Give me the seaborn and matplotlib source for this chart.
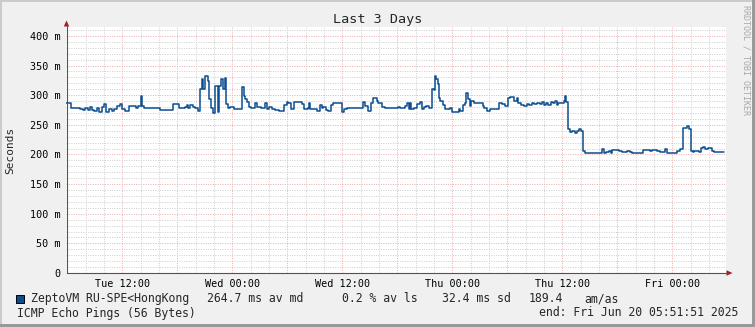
import numpy as np
import pandas as pd
import matplotlib
matplotlib.use("Agg")
import matplotlib.pyplot as plt
import seaborn as sns
from matplotlib.lines import Line2D
from matplotlib.patches import Polygon, Rectangle

# ---------------- data (hours since Tue 00:00, median RTT in ms) ----------------
hours = [
    5.86, 6.36, 7.34, 7.71, 7.93, 8.29, 8.51, 8.65, 8.91, 9.27,
    9.46, 9.74, 10.00, 10.25, 10.55, 10.83, 11.09, 11.45, 11.71, 12.00,
    12.29, 12.73, 13.28, 13.53, 13.75, 14.00, 14.11, 14.37, 16.07, 17.56,
    18.14, 18.87, 19.06, 19.17, 19.42, 19.67, 19.96, 20.26, 20.43, 20.69,
    20.80, 21.05, 21.31, 21.41, 21.63, 21.85, 22.07, 22.44, 22.58, 22.80,
    22.94, 23.16, 23.31, 23.53, 23.78, 24.14, 25.06, 25.23, 25.42, 25.60,
    25.78, 26.07, 26.43, 26.69, 27.16, 27.60, 27.79, 27.96, 28.33, 28.69,
    29.05, 29.60, 29.97,
    30.11, 30.40, 30.76, 31.56, 31.85, 32.21, 32.40, 32.51, 32.84, 33.20,
    33.57, 33.74, 33.93, 34.18, 34.40, 34.77, 35.02, 35.92, 36.22, 36.47,
    38.29, 38.48, 38.84, 39.13, 39.38, 39.74, 39.93, 40.29, 40.66, 42.11,
    42.33,
    42.87, 43.06, 43.23, 43.42, 43.53, 43.78, 44.15, 44.43, 44.69, 44.95,
    45.16, 45.46, 45.82, 45.96, 46.15, 46.25, 46.40, 46.55, 46.69, 46.98,
    47.16, 47.42, 47.78, 47.97, 48.69, 48.87, 49.17, 49.34, 49.53, 49.71,
    49.96, 50.07, 50.32, 51.35, 51.49, 51.79, 52.15, 52.51, 53.05, 53.42,
    53.78, 54.03, 54.33,
    54.73, 55.01, 55.20, 55.45, 55.82, 56.18, 56.37, 56.65, 56.91, 57.27,
    57.52, 57.82, 58.00, 58.18, 58.47, 58.72, 58.98, 59.20, 59.38, 59.56,
    59.81, 60.18, 60.29, 60.44, 60.65, 60.80, 61.09, 61.38, 61.64, 61.82,
    62.10, 62.26, 62.43, 64.36, 64.55, 64.72, 65.09, 65.27, 65.45, 66.18,
    66.55, 67.06, 67.34, 67.60, 68.80, 69.60, 69.78, 70.33, 70.61, 71.24,
    71.42, 72.51, 72.80, 73.17, 73.60, 73.78, 74.07, 74.21, 74.40, 74.87,
    75.13, 75.35, 75.60, 75.85, 76.33, 76.58, 77.65,
]
median_ms = [
    286, 278.5, 277.5, 275, 278.5, 275, 280, 275, 273, 278,
    272, 279.5, 285, 272, 276, 273.5, 277, 281, 285, 277,
    273.5, 281, 282, 278.5, 282, 299, 281, 279, 274.5, 285,
    279, 280, 283.6, 279, 283.6, 280, 278.5, 273, 310, 327,
    310, 331.6, 324, 293, 279, 270.7, 315.8, 271, 316, 327,
    310, 329.5, 285, 279, 280, 277.5, 313, 299, 293.5, 289.3,
    280, 279, 287.6, 280, 279, 287, 276, 280, 276, 275,
    273, 283.6, 289,
    286, 277.5, 289.3, 285, 276, 279, 287.6, 277.5, 276, 273,
    283.6, 279, 280, 275, 274, 283.6, 287.6, 272, 276, 277.8,
    289, 282, 274, 286, 294.4, 291, 286, 280, 279, 280,
    279,
    281, 287, 276, 287.6, 277.5, 279, 285, 289, 277.5, 280,
    282, 279, 310, 308, 331.6, 327, 318.6, 296, 291, 283.6,
    277.5, 276, 279, 271, 276, 274, 283.6, 287, 304.5, 293,
    282, 291, 287, 282, 279, 272.5, 276, 277.5, 286, 285,
    281, 294.9, 297,
    290.4, 296, 286, 283.6, 282, 285, 283, 287.6, 285, 286,
    285, 288.6, 283, 287.6, 284, 289, 286, 290, 283, 286,
    287.6, 290, 299, 289, 242.6, 238, 239.7, 237, 239.7, 242.6,
    239, 206, 203.2, 208.7, 203, 204, 206, 203, 207, 205,
    204.3, 206, 204.3, 203.2, 207.6, 206, 207.6, 205.5, 204.3, 208.7,
    203.2, 206, 210, 244.2, 248.6, 243.2, 206, 204.3, 206, 204.3,
    211.4, 213, 210, 211.4, 206, 204.3, 204.3,
]

x_start, x_end = 5.864, 77.864
x_tick_hours = [12, 24, 36, 48, 60, 72]
x_tick_labels = ["Tue 12:00", "Wed 00:00", "Wed 12:00", "Thu 00:00", "Thu 12:00", "Fri 00:00"]
y_tick_values = [0, 50, 100, 150, 200, 250, 300, 350, 400]
y_tick_labels = ["0", "50 m", "100 m", "150 m", "200 m", "250 m", "300 m", "350 m", "400 m"]

title = "Last 3 Days"
y_label = "Seconds"
legend_name = "ZeptoVM RU-SPE<HongKong"
stat_texts = ["264.7 ms av md", "0.2 % av ls", "32.4 ms sd", "189.4", "am/as"]
footer_left = "ICMP Echo Pings (56 Bytes)"
footer_right = "end: Fri Jun 20 05:51:51 2025"
watermark = "RRDTOOL / TOBI OETIKER"

# ---------------- style ----------------
sns.set_style("white")
plt.rcParams['font.family'] = ['DejaVu Sans Mono', 'DejaVu Sans']

W, H = 755, 327
BG = '#F0F0F0'
LINE = '#0b4d8f'
AXIS = '#6e4848'
ARROW = '#9b2020'
MINOR = '#cfcfcf'
MAJOR = '#eeb0b0'

fig = plt.figure(figsize=(W / 100, H / 100), dpi=100, facecolor=BG)


def fx(px):
    return px / W


def fy(py):
    return 1 - py / H


L, R, T, B = 66.0, 726.0, 27.0, 273.0
ax = fig.add_axes([fx(L), fy(B), fx(R) - fx(L), fy(T) - fy(B)])
ax.set_facecolor('white')

n = min(len(hours), len(median_ms))
df = pd.DataFrame({"hours": hours[:n], "ms": median_ms[:n]})
sns.lineplot(data=df, x="hours", y="ms", drawstyle="steps-post", color=LINE,
             linewidth=1.1, estimator=None, ax=ax, zorder=5)

ax.set_xlim(x_start, x_end)
ax.set_ylim(0, 415)

# ticks / grid
major_x = list(np.arange(6, 78, 6))
ax.set_xticks(major_x)
lbl_map = dict(zip(x_tick_hours, x_tick_labels))
ax.set_xticklabels([lbl_map.get(int(h), "") for h in major_x])
ax.set_xticks(list(np.arange(6, 78, 2)), minor=True)
ax.set_yticks(y_tick_values)
ax.set_yticklabels(y_tick_labels)
ax.set_yticks(list(np.arange(0, 415, 10)), minor=True)

ax.grid(which='minor', color=MINOR, linestyle=(0, (1, 1.4)), linewidth=0.72)
ax.grid(which='major', color=MAJOR, linestyle=(0, (1, 1.4)), linewidth=0.72)
ax.set_axisbelow(True)

ax.tick_params(axis='both', which='major', labelsize=7.3, colors=AXIS,
               labelcolor='black', length=1.6, width=0.72, direction='out')
ax.tick_params(axis='x', which='major', pad=3.0)
ax.tick_params(axis='y', which='major', pad=2.2)
ax.tick_params(which='minor', length=0)
ax.set_xlabel("")
ax.set_ylabel("")
for s in ax.spines.values():
    s.set_visible(False)

# axis lines + arrows (figure pixel coords)
fig.add_artist(Line2D([fx(L + 0.5), fx(728)], [fy(B), fy(B)], transform=fig.transFigure,
                      color=AXIS, lw=0.8))
fig.add_artist(Line2D([fx(L + 0.5), fx(L + 0.5)], [fy(B), fy(24)], transform=fig.transFigure,
                      color=AXIS, lw=0.8))
fig.add_artist(Polygon([[fx(726.5), fy(270.3)], [fx(732.5), fy(273)], [fx(726.5), fy(275.7)]],
                       closed=True, transform=fig.transFigure, color=ARROW, lw=0))
fig.add_artist(Polygon([[fx(63.8), fy(26.5)], [fx(L + 0.5), fy(20.5)], [fx(69.2), fy(26.5)]],
                       closed=True, transform=fig.transFigure, color=ARROW, lw=0))

# texts
fig.text(0.5, fy(19), title, ha='center', va='center', fontsize=9.7)
fig.text(fx(10), fy(150), y_label, rotation=90, ha='center', va='center', fontsize=8.0)
fig.text(fx(745.7), fy(60), watermark, rotation=270, ha='center', va='center',
         fontsize=6.0, color='#a8a8a8')

fig.add_artist(Rectangle((fx(16), fy(302.5)), fx(7.5), fy(294.5) - fy(302.5),
                         transform=fig.transFigure, facecolor=LINE, edgecolor='black', lw=0.7))
fig.text(fx(30.7), fy(298.5), legend_name, ha='left', va='center', fontsize=8.3)
stat_x = [207.3, 342.3, 441.7, 528.3, 584.3]
for sx, st in zip(stat_x, stat_texts):
    fig.text(fx(sx), fy(298.5), st, ha='left', va='center', fontsize=8.3)
fig.text(fx(16.7), fy(313), footer_left, ha='left', va='center', fontsize=8.3)
fig.text(fx(738.3), fy(313), footer_right, ha='right', va='center', fontsize=8.3)

# 3D frame
fig.add_artist(Rectangle((0, fy(2)), 1, fy(0) - fy(2), transform=fig.transFigure,
                         facecolor='#CBCBCB', lw=0))
fig.add_artist(Rectangle((0, 0), fx(2), 1, transform=fig.transFigure,
                         facecolor='#CBCBCB', lw=0))
fig.add_artist(Rectangle((0, 0), 1, fy(324), transform=fig.transFigure,
                         facecolor='#999999', lw=0))
fig.add_artist(Rectangle((fx(752), 0), 1 - fx(752), 1, transform=fig.transFigure,
                         facecolor='#999999', lw=0))

fig.savefig("out.png", dpi=100, facecolor=BG)
